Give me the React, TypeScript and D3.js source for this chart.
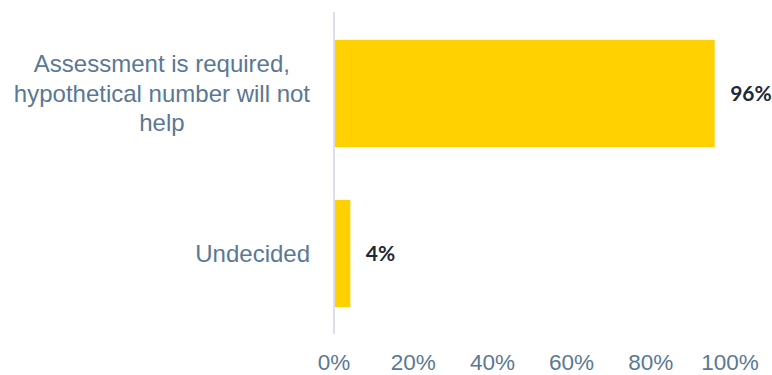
import React, { useEffect, useRef } from "react";
import * as d3 from "d3";

const categories = ["Assessment is required, hypothetical number will not help", "Undecided"];
const categoryLines = [["Assessment is required,", "hypothetical number will not", "help"], ["Undecided"]];
const values = [96, 4];
const tickValues = [0, 20, 40, 60, 80, 100];

const W = 772, H = 375;
const margin = { left: 334, right: 42, top: 13.5, bottom: 41.5 };

export default function App() {
  const ref = useRef<SVGSVGElement>(null);
  useEffect(() => {
    const svg = d3.select(ref.current);
    svg.selectAll("*").remove();
    const x = d3.scaleLinear().domain([0, 100]).range([margin.left, W - margin.right]);
    const y = d3.scaleBand<string>().domain(categories).range([margin.top, H - margin.bottom]).paddingInner(0.33).paddingOuter(0.165);
    const labelFont = "'Liberation Sans', Arial, sans-serif";
    const textColor = "#5a7894";

    // bars
    svg.selectAll("rect.bar").data(values).enter().append("rect")
      .attr("x", x(0) + 0.5)
      .attr("y", (_, i) => y(categories[i])!)
      .attr("width", d => x(d) - x(0))
      .attr("height", y.bandwidth())
      .attr("fill", "#FFD100");

    // axis line
    svg.append("line").attr("x1", x(0)).attr("x2", x(0)).attr("y1", 12).attr("y2", 334)
      .attr("stroke", "#d9e0ea").attr("stroke-width", 2);

    // value labels
    svg.selectAll("text.val").data(values).enter().append("text")
      .attr("x", d => x(d) + 16)
      .attr("y", (_, i) => y(categories[i])! + y.bandwidth() / 2)
      .attr("dy", "0.35em")
      .attr("font-family", "Lato, sans-serif").attr("font-weight", 700).attr("font-size", 21)
      .attr("fill", "#1d2935")
      .text(d => d + "%");

    // tick labels
    svg.selectAll("text.tick").data(tickValues).enter().append("text")
      .attr("x", d => x(d))
      .attr("y", 369.5)
      .attr("text-anchor", "middle")
      .attr("font-family", labelFont).attr("font-size", 22.5)
      .attr("fill", textColor)
      .text(d => d + "%");

    // category labels: block right-aligned, lines centered in block
    const rightEdge = 310;
    const lineH = 29.5;
    categoryLines.forEach((lines, i) => {
      const g = svg.append("g");
      const cy = y(categories[i])! + y.bandwidth() / 2;
      const texts = lines.map((ln, j) => g.append("text")
        .attr("y", cy + (j - (lines.length - 1) / 2) * lineH)
        .attr("dy", "0.35em")
        .attr("text-anchor", "middle")
        .attr("font-family", labelFont).attr("font-size", 24)
        .attr("fill", textColor)
        .text(ln));
      const maxW = d3.max(texts, t => (t.node() as SVGTextElement).getComputedTextLength()) || 0;
      texts.forEach(t => t.attr("x", rightEdge - maxW / 2));
    });
  }, []);
  return (
    <svg ref={ref} width={W} height={H} style={{ position: "absolute", left: 0, top: 0, background: "#fff" }} />
  );
}
